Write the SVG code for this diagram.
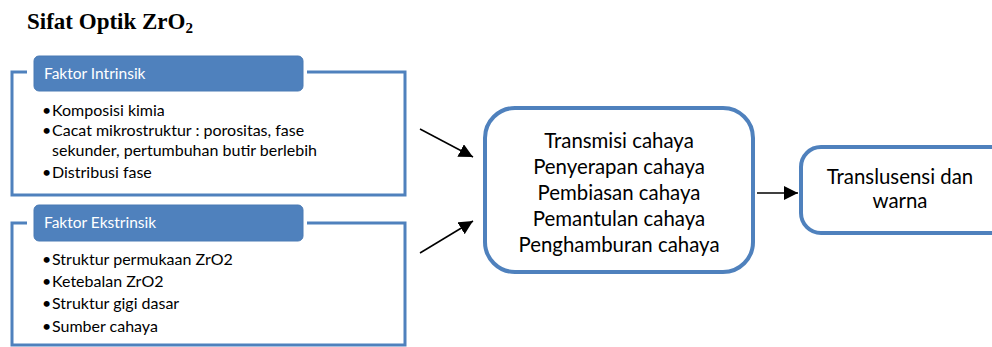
<svg xmlns="http://www.w3.org/2000/svg" width="992" height="347" viewBox="0 0 992 347">
<style>
.frame{fill:none;stroke:#4f81bd;stroke-width:3}
.hdr{fill:#4f81bd;stroke:#4a7ab4;stroke-width:1}
.ht{font-family:Lato,"Open Sans",sans-serif;font-size:15.5px;fill:#ffffff}
.bt{font-family:Lato,"Open Sans",sans-serif;font-size:16px;fill:#000000}
.ct{font-family:Lato,"Open Sans",sans-serif;font-size:20.4px;fill:#000000;text-anchor:middle}
.rbox{fill:#ffffff;stroke:#4f81bd;stroke-width:4}
.conn{stroke:#000000;stroke-width:1.5;fill:none}
</style>
<defs>
<marker id="ahb" viewBox="0 0 10 10" refX="10" refY="5" markerWidth="14" markerHeight="14" markerUnits="userSpaceOnUse" orient="auto">
<path d="M0,0 L10,5 L0,10 z" fill="#000000"/>
</marker>
</defs>
<rect width="992" height="347" fill="#ffffff"/>
<text x="27" y="29" font-family="'Liberation Serif',serif" font-size="23" font-weight="bold" fill="#000000">Sifat Optik ZrO<tspan font-size="15" dy="4">2</tspan></text>

<g id="intrinsik">
<path class="frame" d="M27,72 L12,72 L12,195 L405,195 L405,72 L307,72"/>
<rect class="hdr" x="34" y="56" width="269" height="35" rx="5"/>
<text class="ht" x="44" y="79">Faktor Intrinsik</text>
<text class="bt"><tspan x="42" y="116">•</tspan><tspan x="52" y="116">Komposisi kimia</tspan></text>
<text class="bt"><tspan x="42" y="136">•</tspan><tspan x="52" y="136">Cacat mikrostruktur : porositas, fase</tspan></text>
<text class="bt" x="52" y="156">sekunder, pertumbuhan  butir berlebih</text>
<text class="bt"><tspan x="42" y="178">•</tspan><tspan x="52" y="178">Distribusi fase</tspan></text>
</g>

<g id="ekstrinsik">
<path class="frame" d="M27,223 L12,223 L12,345 L405,345 L405,223 L307,223"/>
<rect class="hdr" x="34" y="205" width="269" height="36" rx="5"/>
<text class="ht" x="44" y="228">Faktor Ekstrinsik</text>
<text class="bt"><tspan x="42" y="265">•</tspan><tspan x="52" y="265">Struktur permukaan  ZrO2</tspan></text>
<text class="bt"><tspan x="42" y="287">•</tspan><tspan x="52" y="287">Ketebalan ZrO2</tspan></text>
<text class="bt"><tspan x="42" y="309">•</tspan><tspan x="52" y="309">Struktur gigi dasar</tspan></text>
<text class="bt"><tspan x="42" y="332">•</tspan><tspan x="52" y="332">Sumber cahaya</tspan></text>
</g>

<g id="cahaya">
<rect class="rbox" x="485" y="108" width="268" height="164" rx="30"/>
<text class="ct" x="619" y="148">Transmisi cahaya</text>
<text class="ct" x="619" y="174">Penyerapan cahaya</text>
<text class="ct" x="619" y="200">Pembiasan cahaya</text>
<text class="ct" x="619" y="226">Pemantulan cahaya</text>
<text class="ct" x="619" y="252">Penghamburan cahaya</text>
</g>

<g id="translusensi">
<rect class="rbox" x="801" y="147" width="210" height="86" rx="20"/>
<text class="ct" x="900" y="184">Translusensi dan</text>
<text class="ct" x="900" y="208">warna</text>
</g>

<g id="connectors">
<line class="conn" x1="420" y1="129" x2="473" y2="157" marker-end="url(#ahb)"/>
<line class="conn" x1="420" y1="253" x2="473" y2="221" marker-end="url(#ahb)"/>
<line class="conn" x1="757" y1="193" x2="798" y2="193" marker-end="url(#ahb)"/>
</g>
</svg>
